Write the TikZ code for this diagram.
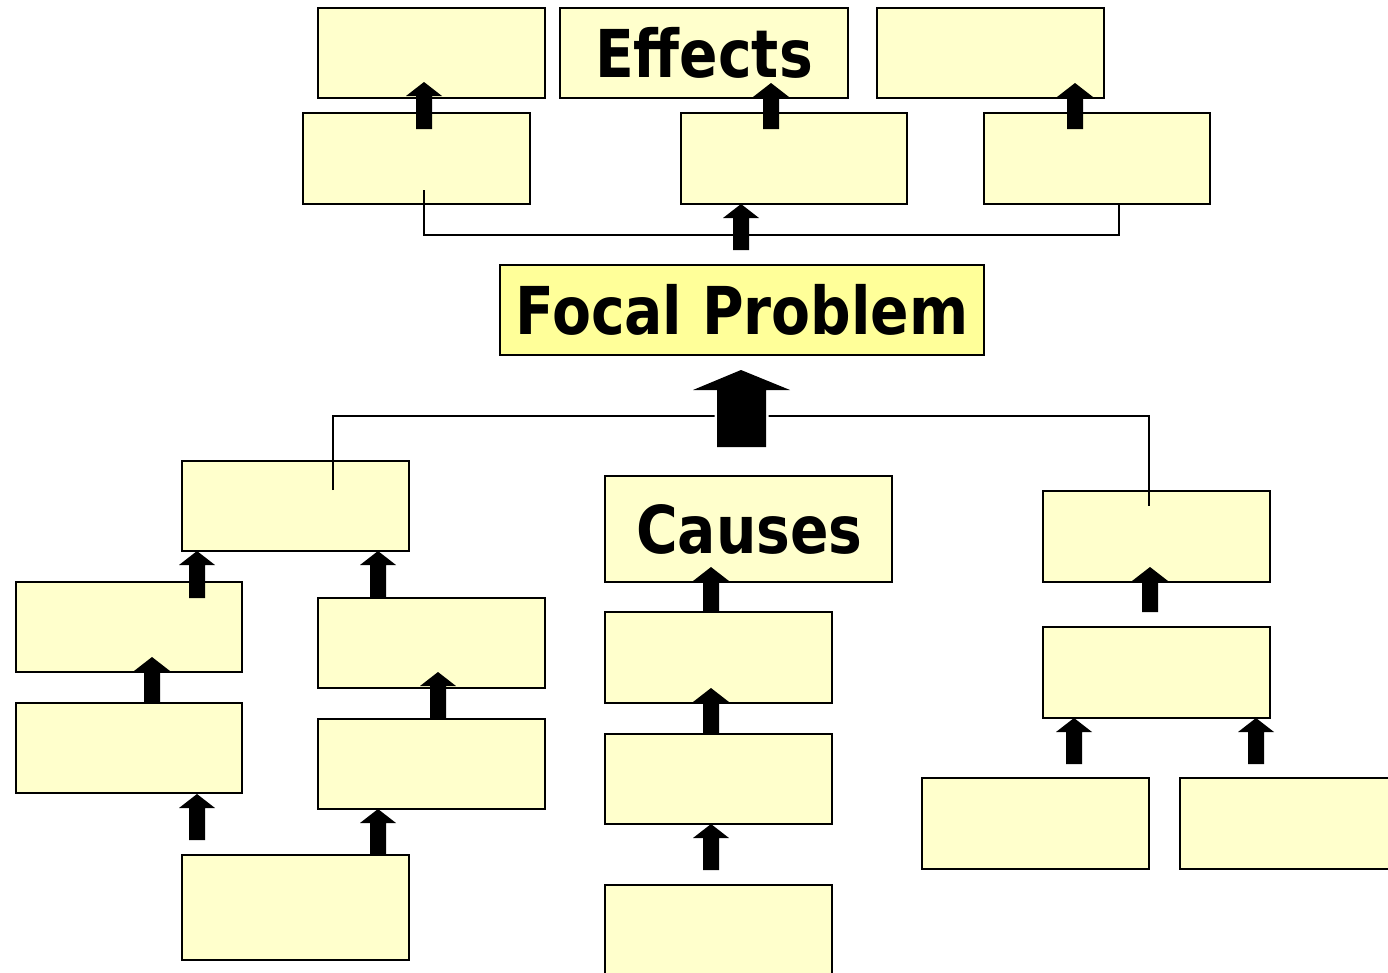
\documentclass[tikz,border=0pt]{standalone}
\usepackage{fontspec}
\newfontfamily\hdfont{DejaVu Sans}
\usepackage{graphicx}
\definecolor{boxfill}{HTML}{FFFFCC}
\definecolor{focalfill}{HTML}{FFFF99}
\tikzset{
  box/.style={draw=black, line width=1.6pt, fill=boxfill, anchor=north west, inner sep=0pt, outer sep=0pt},
  focalbox/.style={box, fill=focalfill},
  conn/.style={draw=black, line width=1.3pt},
  blockarrow/.style={fill=black},
  bigtext/.style={font=\hdfont\bfseries\fontsize{66}{70}\selectfont, inner sep=0pt}
}
\newcommand{\bx}[6][box]{\node[#1, minimum width={#5-#3}, minimum height={#6-#4}] (#2) at (#3,#4) {};}
\newcommand{\uparr}[3]{\fill[blockarrow] ({#1-8},{#3}) -- ({#1-8},{#2+14}) -- ({#1-18},{#2+14}) -- (#1,#2) -- ({#1+18},{#2+14}) -- ({#1+8},{#2+14}) -- ({#1+8},{#3}) -- cycle;}
\begin{document}
\begin{tikzpicture}[x=1pt,y=-1pt]
\useasboundingbox (0,0) rectangle (1388,972);
\begin{scope}
\clip (0,0) rectangle (1388,972);
% Effects rows
\bx{e1}{318}{8}{545}{98}
\bx{e2}{560}{8}{848}{98}
\bx{e3}{877}{8}{1104}{98}
\bx{f1}{303}{113}{530}{204}
\bx{f2}{681}{113}{907}{204}
\bx{f3}{984}{113}{1210}{204}
\bx[focalbox]{fp}{500}{265}{984}{355}
% Causes
\bx{l1}{182}{461}{409}{551}
\bx{l2}{16}{582}{242}{672}
\bx{l3}{16}{703}{242}{793}
\bx{l4}{182}{855}{409}{960}
\bx{l5}{318}{598}{545}{688}
\bx{l6}{318}{719}{545}{809}
\bx{c1}{605}{476}{892}{582}
\bx{c2}{605}{612}{832}{703}
\bx{c3}{605}{734}{832}{824}
\bx{c4}{605}{885}{832}{990}
\bx{r1}{1043}{491}{1270}{582}
\bx{r2}{1043}{627}{1270}{718}
\bx{r3}{922}{778}{1149}{869}
\bx{r4}{1180}{778}{1400}{869}
% texts
\node[bigtext] at (e2.center) {\scalebox{0.86}[1]{Effects}};
\node[bigtext] at (fp.center) {\scalebox{0.86}[1]{Focal Problem}};
\node[bigtext] at ([xshift=1pt]c1.center) {\scalebox{0.86}[1]{Causes}};
% effects connectors
\coordinate (ef1) at (424,190);
\coordinate (ef3) at (1119,204);
\draw[conn] (ef1) -- (424,235) -- (1119,235) -- (ef3);
% causes connectors
\coordinate (cl) at (333,490);
\coordinate (cr) at (1149,506);
\draw[conn] (cl) -- (333,416) -- (1149,416) -- (cr);
% big arrow
\filldraw[blockarrow, draw=white, line width=5pt] (717,447) -- (717,390) -- (693,390) -- (741,370) -- (790,390) -- (766,390) -- (766,447) -- cycle;
\fill[blockarrow] (717,447) -- (717,390) -- (693,390) -- (741,370) -- (790,390) -- (766,390) -- (766,447) -- cycle;
% small arrows
\uparr{424}{82}{129}
\uparr{771}{83}{129}
\uparr{1075}{83}{129}
\uparr{741}{204}{250}
\uparr{197}{551}{598}
\uparr{378}{551}{598}
\uparr{152}{657}{703}
\uparr{438}{672}{719}
\uparr{197}{794}{840}
\uparr{378}{809}{855}
\uparr{711}{567}{612}
\uparr{711}{688}{734}
\uparr{711}{824}{870}
\uparr{1150}{567}{612}
\uparr{1074}{718}{764}
\uparr{1256}{718}{764}
\end{scope}
\end{tikzpicture}
\end{document}
